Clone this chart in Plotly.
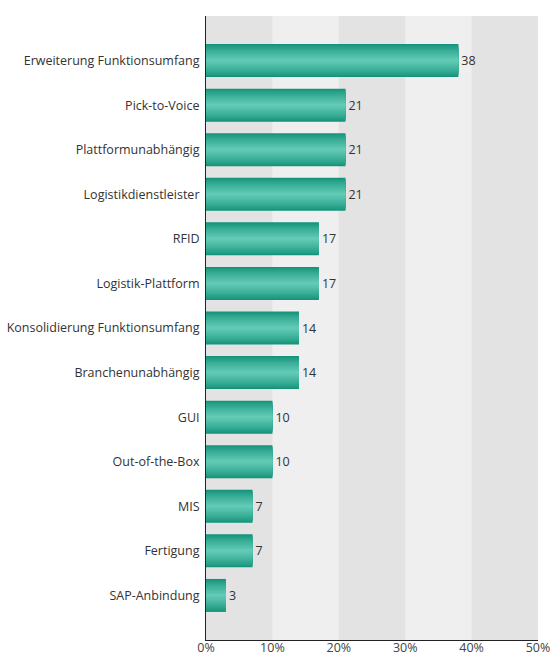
import plotly.graph_objects as go

categories = ["Erweiterung Funktionsumfang", "Pick-to-Voice", "Plattformunabhängig",
              "Logistikdienstleister", "RFID", "Logistik-Plattform",
              "Konsolidierung Funktionsumfang", "Branchenunabhängig", "GUI",
              "Out-of-the-Box", "MIS", "Fertigung", "SAP-Anbindung"]
values = [38, 21, 21, 21, 17, 17, 14, 14, 10, 10, 7, 7, 3]
tick_vals = [0, 10, 20, 30, 40, 50]
tick_text = ["0%", "10%", "20%", "30%", "40%", "50%"]

fig = go.Figure()

# layered bars to mimic the vertical gradient (dark edges, light centre)
dark = (0x14, 0x93, 0x7a)
light = (0x62, 0xca, 0xb5)
n_layers = 14
for i in range(n_layers):
    t = i / (n_layers - 1)
    w = 0.74 * (1 - t) + 0.04 * t
    tt = t ** 0.8
    c = "rgb({},{},{})".format(*[round(d + (l - d) * tt) for d, l in zip(dark, light)])
    fig.add_trace(go.Bar(
        y=categories, x=values, orientation="h", width=w,
        marker=dict(color=c, line=dict(width=0)),
        text=[str(v) for v in values] if i == 0 else None,
        textposition="outside" if i == 0 else "none",
        textfont=dict(family="Open Sans", size=12.5, color="#333333"),
        cliponaxis=False, hoverinfo="skip", showlegend=False,
    ))

shapes = []
for k in range(0, len(tick_vals) - 1, 2):
    shapes.append(dict(type="rect", xref="x", yref="paper", x0=tick_vals[k], x1=tick_vals[k + 1],
                       y0=0, y1=1, fillcolor="#e3e3e3", line=dict(width=0), layer="below"))

fig.update_layout(
    width=552, height=655,
    margin=dict(l=206, r=14, t=16, b=15),
    paper_bgcolor="white", plot_bgcolor="#efefef",
    barmode="overlay",
    shapes=shapes,
    font=dict(family="Open Sans", size=12, color="#333333"),
    xaxis=dict(range=[0, 50], tickvals=tick_vals, ticktext=tick_text, showgrid=False,
               zeroline=False, showline=True, linecolor="#222222", linewidth=1,
               ticks="", ticklabelstandoff=-4,
               tickfont=dict(size=12.5, color="#444444"), fixedrange=True,
               automargin=False),
    yaxis=dict(type="category", categoryorder="array", categoryarray=categories,
               range=[len(categories), -1], showgrid=False, zeroline=False,
               showline=True, linecolor="#222222", linewidth=1, ticks="",
               ticklabelstandoff=3, automargin=False,
               tickfont=dict(size=12.5, color="#333333"), fixedrange=True),
)

fig.write_html("out.html")
